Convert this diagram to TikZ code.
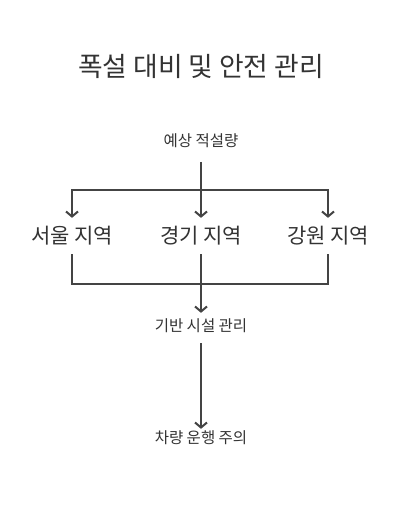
\documentclass[tikz,border=0pt]{standalone}
\usepackage{fontspec}
\setmainfont{Noto Sans CJK KR}
\usetikzlibrary{arrows.meta, positioning}

\definecolor{inkgray}{HTML}{444444}
\definecolor{textgray}{HTML}{333333}

\begin{document}
\begin{tikzpicture}[x=1pt, y=-1pt]
	\tikzset{
		titlenode/.style={text=textgray, font=\fontsize{26.8}{30}\selectfont, inner sep=0pt},
		regionnode/.style={text=textgray, font=\fontsize{21}{25}\selectfont, inner sep=0pt, minimum height=36pt},
		labelnode/.style={text=textgray, font=\fontsize{15.5}{18}\selectfont, inner sep=0pt},
		link/.style={draw=inkgray, line width=2pt, -{Straight Barb[length=5pt, width=12pt, line width=2pt]}},
		plain/.style={draw=inkgray, line width=2pt},
	}
	\useasboundingbox (0,0) rectangle (402,530);

	\node[titlenode] (title) at (201,66.5) {폭설 대비 및 안전 관리};

	\node[labelnode, minimum height=42.4pt] (forecast) at (201,140.5) {예상 적설량};

	\node[regionnode] (seoul) at (72,236) {서울 지역};
	\node[regionnode] (gyeonggi) at (201,236) {경기 지역};
	\node[regionnode] (gangwon) at (328,236) {강원 지역};

	\node[labelnode, minimum height=25pt] (infra) at (201,325.5) {기반 시설 관리};
	\node[labelnode, minimum height=18pt] (traffic) at (201,438) {차량 운행 주의};

	\coordinate (split) at (201,190);
	\coordinate (merge) at (201,284);

	% fan out from the forecast
	\draw[link] (forecast) -- (gyeonggi);
	\draw[link] (split) -| (seoul);
	\draw[link] (split) -| (gangwon);

	% collect the regions
	\draw[plain] (seoul) |- (merge);
	\draw[plain] (gangwon) |- (merge);
	\draw[link] (gyeonggi) -- (infra);

	\draw[link, shorten <=5pt] (infra) -- (traffic);
\end{tikzpicture}
\end{document}
